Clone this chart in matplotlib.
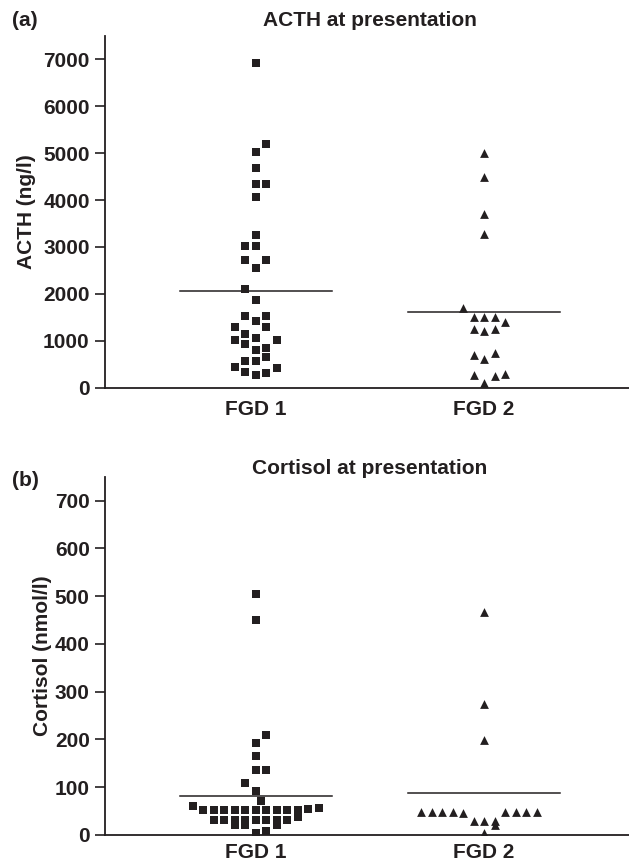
import numpy as np
import matplotlib
matplotlib.use("Agg")
import matplotlib.pyplot as plt

plt.rcParams['font.family'] = ['Liberation Sans', 'DejaVu Sans']
plt.rcParams['font.weight'] = 'bold'
plt.rcParams['axes.labelweight'] = 'bold'

INK = "#231f20"

# =========================
# Data: (value, column offset in marker widths)
# =========================
groups = ["FGD 1", "FGD 2"]

acth_fgd1 = [6915, 5188, 5024, 4676, 4342, 4342, 4072, 3255, 3020, 3020,
             2722, 2722, 2545, 2097, 1869, 1528, 1528, 1429, 1287, 1287,
             1145, 1017, 1053, 1017, 925, 803, 839, 661, 576, 576,
             448, 427, 341, 270, 306]
acth_fgd1_off = [0, 1, 0, 0, 0, 1, 0, 0, -1, 0,
                 -1, 1, 0, -1, 0, -1, 1, 0, -2, 1,
                 -1, -2, 0, 2, -1, 0, 1, 1, -1, 0,
                 -2, 2, -1, 0, 1]

acth_fgd2 = [4997, 4498, 3703, 3270, 1693, 1501, 1501, 1501, 1407,
             1251, 1209, 1251, 697, 612, 733, 270, 93, 249, 292]
acth_fgd2_off = [0, 0, 0, 0, -2, -1, 0, 1, 2,
                 -1, 0, 1, -1, 0, 1, -1, 0, 1, 2]

cort_fgd1 = [504, 451, 209, 192, 165, 135, 135, 108, 92, 72, 61,
             52, 52, 52, 52, 52, 52, 52, 52, 52, 52, 54, 57,
             31, 31, 31, 31, 31, 31, 31, 31, 38,
             21, 21, 21, 5, 9]
cort_fgd1_off = [0, 0, 1, 0, 0, 0, 1, -1, 0, 0.5, -6,
                 -5, -4, -3, -2, -1, 0, 1, 2, 3, 4, 5, 6,
                 -4, -3, -2, -1, 0, 1, 2, 3, 4,
                 -2, -1, 2, 0, 1]

cort_fgd2 = [467, 274, 199, 49, 49, 49, 49, 47, 49, 49, 49, 49,
             30, 30, 30, 21, 5]
cort_fgd2_off = [0, 0, 0, -6, -5, -4, -3, -2, 2, 3, 4, 5,
                 -1, 0, 1, 1, 0]

acth_means = [2068, 1614]
cort_means = [81, 88.6]

STEP = 0.046  # horizontal spacing of overlapping markers


def panel(ax, vals, offs, markers, means, ylim, yticks, ylabel):
    for k in range(2):
        x = k + 1 + np.array(offs[k]) * STEP
        ax.scatter(x, vals[k], marker=markers[k], s=28 if markers[k] == "s" else 40,
                   color=INK, linewidths=0, zorder=3)
        ax.plot([k + 1 - 0.333, k + 1 + 0.333], [means[k], means[k]],
                color=INK, lw=1.1, zorder=2)
    ax.set_xlim(0.3405, 2.6346)
    ax.set_ylim(0, ylim)
    ax.set_yticks(yticks)
    ax.set_xticks([1, 2])
    ax.set_xticklabels(groups)
    ax.spines[["top", "right"]].set_visible(False)
    for s in ["left", "bottom"]:
        ax.spines[s].set_color(INK)
        ax.spines[s].set_linewidth(1.3)
    ax.tick_params(axis="y", length=7, width=1.2, color=INK, pad=4,
                   labelsize=15, labelcolor=INK)
    ax.tick_params(axis="x", length=0, pad=9, labelsize=15, labelcolor=INK)
    ax.set_ylabel(ylabel, fontsize=15, color=INK, labelpad=5)


fig = plt.figure(figsize=(6.29, 8.64), dpi=100)

ax_a = fig.add_axes([0.1669, 0.5513, 0.8331, 0.4072])
panel(ax_a, [acth_fgd1, acth_fgd2], [acth_fgd1_off, acth_fgd2_off], ["s", "^"],
      acth_means, 7500, range(0, 7001, 1000), "ACTH (ng/l)")

ax_b = fig.add_axes([0.1669, 0.0336, 0.8331, 0.4147])
panel(ax_b, [cort_fgd1, cort_fgd2], [cort_fgd1_off, cort_fgd2_off], ["s", "^"],
      cort_means, 750, range(0, 701, 100), "Cortisol (nmol/l)")
ax_b.tick_params(axis="x", pad=6)
ax_b.yaxis.labelpad = 2

fig.text(370 / 629, 1 - 20 / 864, "ACTH at presentation", ha="center", va="center",
         fontsize=15, color=INK)
fig.text(370 / 629, 1 - 469 / 864, "Cortisol at presentation", ha="center", va="center",
         fontsize=15, color=INK)
fig.text(12 / 629, 1 - 20 / 864, "(a)", ha="left", va="center", fontsize=15, color=INK)
fig.text(12 / 629, 1 - 481 / 864, "(b)", ha="left", va="center", fontsize=15, color=INK)

fig.savefig("out.png", dpi=100)
